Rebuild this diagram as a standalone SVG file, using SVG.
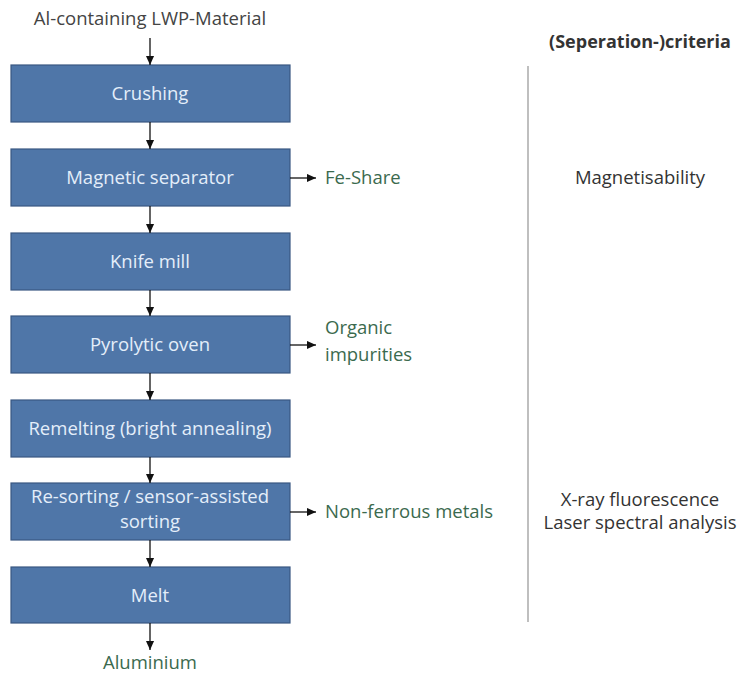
<svg xmlns="http://www.w3.org/2000/svg" width="739" height="673" viewBox="0 0 739 673">
  <defs>
    <marker id="arrow" viewBox="0 0 10 10" refX="10" refY="5" markerWidth="9" markerHeight="9" markerUnits="userSpaceOnUse" orient="auto">
      <path d="M0,0.5 L10,5 L0,9.5 z" fill="#111"/>
    </marker>
    <style>
      .box { fill: #4f76a8; stroke: #3a5882; stroke-width: 1.2; }
      .lbl { font-family: "Open Sans", "Liberation Sans", sans-serif; font-size: 18.5px; fill: #e4eefa; text-anchor: middle; }
      .out { font-family: "Open Sans", "Liberation Sans", sans-serif; font-size: 18.5px; fill: #3b6a4e; }
      .txt { font-family: "Open Sans", "Liberation Sans", sans-serif; font-size: 18.5px; fill: #333; text-anchor: middle; }
      .hdr { font-weight: bold; font-size: 18px; }
      .edge { stroke: #111; stroke-width: 1.3; fill: none; marker-end: url(#arrow); }
    </style>
  </defs>
  <rect width="739" height="673" fill="#fff"/>

  <g id="input"><text class="txt" x="150" y="25" style="fill:#444">Al-containing LWP-Material</text></g>

  <g id="crushing"><rect class="box" x="11" y="65" width="279" height="57"/><text class="lbl" x="150" y="100">Crushing</text></g>
  <g id="magnetic"><rect class="box" x="11" y="149" width="279" height="57"/><text class="lbl" x="150" y="184">Magnetic separator</text></g>
  <g id="knife"><rect class="box" x="11" y="233" width="279" height="57"/><text class="lbl" x="150" y="268">Knife mill</text></g>
  <g id="pyrolytic"><rect class="box" x="11" y="316" width="279" height="57"/><text class="lbl" x="150" y="351">Pyrolytic oven</text></g>
  <g id="remelting"><rect class="box" x="11" y="400" width="279" height="57"/><text class="lbl" x="150" y="435">Remelting (bright annealing)</text></g>
  <g id="resorting"><rect class="box" x="11" y="483" width="279" height="57"/><text class="lbl" x="150" y="503">Re-sorting / sensor-assisted</text><text class="lbl" x="150" y="528">sorting</text></g>
  <g id="melt"><rect class="box" x="11" y="567" width="279" height="56"/><text class="lbl" x="150" y="602">Melt</text></g>

  <g id="output"><text class="txt" x="150" y="669" style="fill:#3b6a4e">Aluminium</text></g>

  <g id="fe-share"><text class="out" x="325" y="184">Fe-Share</text></g>
  <g id="organic"><text class="out" x="325" y="334">Organic</text><text class="out" x="325" y="361">impurities</text></g>
  <g id="nonferrous"><text class="out" x="325" y="518">Non-ferrous metals</text></g>

  <g id="criteria">
    <text class="txt hdr" x="640" y="48">(Seperation-)criteria</text>
    <line x1="528" y1="66" x2="528" y2="622" stroke="#aaa" stroke-width="1.5"/>
    <text class="txt" x="640" y="184">Magnetisability</text>
    <text class="txt" x="640" y="506">X-ray fluorescence</text>
    <text class="txt" x="640" y="529">Laser spectral analysis</text>
  </g>

  <g id="connectors">
    <line class="edge" x1="150" y1="38" x2="150" y2="65"/>
    <line class="edge" x1="150" y1="122" x2="150" y2="149"/>
    <line class="edge" x1="150" y1="206" x2="150" y2="233"/>
    <line class="edge" x1="150" y1="290" x2="150" y2="316"/>
    <line class="edge" x1="150" y1="373" x2="150" y2="400"/>
    <line class="edge" x1="150" y1="457" x2="150" y2="483"/>
    <line class="edge" x1="150" y1="540" x2="150" y2="567"/>
    <line class="edge" x1="150" y1="623" x2="150" y2="650"/>
    <line class="edge" x1="290" y1="178" x2="316" y2="178"/>
    <line class="edge" x1="290" y1="345" x2="316" y2="345"/>
    <line class="edge" x1="290" y1="512" x2="316" y2="512"/>
  </g>
</svg>
